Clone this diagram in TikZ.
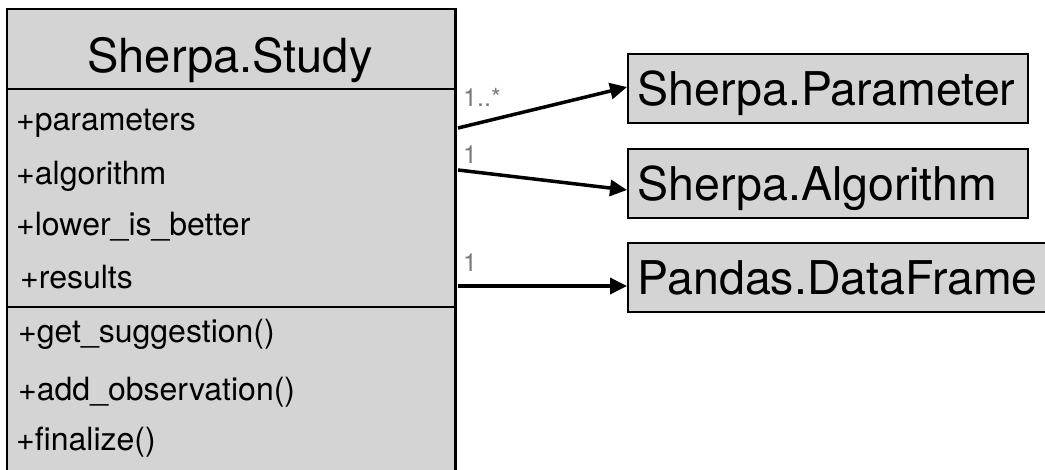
\documentclass[tikz,border=0pt]{standalone}
\usepackage{fontspec}
\setmainfont{TeX Gyre Heros}
\usetikzlibrary{arrows.meta,calc}
\definecolor{boxgray}{HTML}{D4D4D4}
\definecolor{labgray}{HTML}{7A7A7A}
\tikzset{
  classbox/.style={draw=black, fill=boxgray, line width=1.6pt},
  attr/.style={anchor=base west, inner sep=0pt, font=\fontsize{32}{34}\selectfont},
  refbox/.style={draw=black, fill=boxgray, line width=1.6pt, anchor=west,
     inner xsep=10pt, inner ysep=18pt, text height=33pt, text depth=0pt,
     font=\fontsize{46.5}{50}\selectfont, align=left},
  assoc/.style={line width=3.5pt, -{Triangle[length=17pt,width=16pt]}},
  mult/.style={anchor=base west, inner sep=0pt, text=labgray, font=\fontsize{25}{27}\selectfont}
}
\begin{document}
\begin{tikzpicture}[x=1pt,y=-1pt]
\useasboundingbox (0,0) rectangle (1045,469);
\clip (0,0) rectangle (1045,469);
% main class box
\node[classbox, anchor=north west, minimum width=448pt, minimum height=470pt, inner sep=0pt] (study) at (6,8) {};
\draw[line width=2.6pt] (study.north east) -- (study.south east);
\coordinate (sepA) at (6,89);
\coordinate (sepB) at (6,307);
\draw[line width=1.2pt] (sepA) -- (sepA -| study.east);
\draw[line width=1.2pt] (sepB) -- (sepB -| study.east);
\node[anchor=base, inner sep=0pt, font=\fontsize{47}{50}\selectfont] (title) at (230,72) {Sherpa.Study};
\node[attr] (a1) at (16,130) {+parameters};
\node[attr] (a2) at (16,184) {+algorithm};
\node[attr] (a3) at (16,235) {+lower\_is\_better};
\node[attr] (a4) at (20,288) {+results};
\node[attr] (m1) at (18,342) {+get\_suggestion()};
\node[attr] (m2) at (18,400) {+add\_observation()};
\node[attr] (m3) at (16,450) {+finalize()};
% referenced classes
\node[refbox, text width=380pt] (param) at (627,88.5) {Sherpa.Parameter};
\node[refbox, text width=380pt] (algo) at (627,183.5) {Sherpa.Algorithm};
\node[refbox, text width=420pt] (frame) at (627,277.5) {Pandas.DataFrame};
% associations
\coordinate (s1) at (458,128);
\coordinate (s2) at (458,170);
\coordinate (s3) at (458,286);
\draw[assoc] (s1) -- ([yshift=1.5pt]param.west);
\draw[assoc] (s2) -- ([yshift=-6.5pt]algo.west);
\draw[assoc] (s3) -- ([yshift=-8.5pt]frame.west);
\node[mult] (l1) at (463,106) {1..*};
\node[mult] (l2) at (463,163) {1};
\node[mult] (l3) at (463,271) {1};
\end{tikzpicture}
\end{document}
